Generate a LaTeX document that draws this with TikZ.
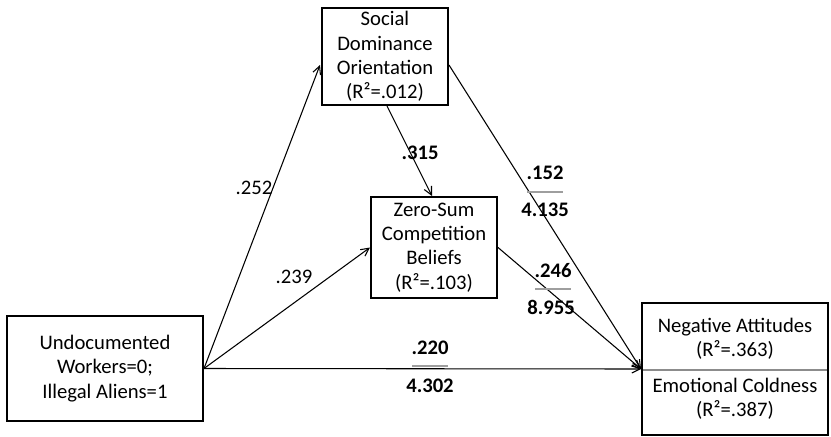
\documentclass[tikz,border=0pt]{standalone}
\usepackage{fontspec}
\setmainfont{Carlito}
\usetikzlibrary{arrows.meta,calc}
\tikzset{
  box/.style={draw,line width=1.5pt,inner sep=0pt,align=center,font=\fontsize{15.5}{18.2}\selectfont},
  txt/.style={inner sep=0pt,align=center,font=\fontsize{15.5}{18.2}\selectfont},
  coef/.style={inner sep=0pt,font=\fontsize{15.5}{18}\selectfont},
  bcoef/.style={inner sep=0pt,font=\bfseries\fontsize{15.5}{18}\selectfont},
  rule/.style={draw=black!38,line width=1.2pt},
  path/.style={line width=0.8pt,-{Straight Barb[length=6pt,width=6pt]}}
}
\begin{document}
\begin{tikzpicture}[x=0.75pt,y=-0.75pt]
\useasboundingbox (0,0) rectangle (831,436);
% boxes
\node[box,minimum width=94.5pt,minimum height=72.75pt] (sdo) at (385,56.5)
  {Social\\Dominance\\Orientation\\(R²=.012)};
\node[box,minimum width=94.5pt,minimum height=75.75pt] (zsc) at (434,247.5)
  {Zero-Sum\\Competition\\Beliefs\\(R²=.103)};
\node[box,minimum width=147pt,minimum height=78.75pt] (und) at (105,368.5)
  {Undocumented\\Workers=0;\\Illegal Aliens=1};
\node[box,minimum width=139.5pt,minimum height=99pt] (neg) at (735,369) {};
\node[txt] (neg1) at (735,339) {Negative Attitudes\\(R²=.363)};
\node[txt] (neg2) at (735,398.5) {Emotional Coldness\\(R²=.387)};
\coordinate (dl) at (643,370);
\coordinate (dr) at (827,370);
\draw[draw=black!45,line width=1pt] (dl) -- (dr);
% connectors
\draw[path] (und.east) -- ($(sdo.west)+(-1,8.5)$);
\draw[path] (und.east) -- (zsc.west);
\draw[path] (und.east) -- (neg.west);
\draw[path] ($(sdo.south)+(2,0)$) -- ($(zsc.north)+(-2,0)$);
\draw[path] ($(sdo.east)+(0,8.5)$) -- (neg.west);
\draw[path] (zsc.east) -- (neg.west);
% coefficients
\node[coef] (c1) at (254,188) {.252};
\node[coef] (c2) at (294,277) {.239};
\node[bcoef] (c3) at (420,153) {.315};
\node[bcoef] (c4) at (545,173) {.152};
\coordinate (r4a) at (527,192);
\coordinate (r4b) at (563,192);
\draw[rule] (r4a) -- (r4b);
\node[bcoef] (c4b) at (545,210) {4.135};
\node[bcoef] (c5) at (553,271) {.246};
\coordinate (r5a) at (535,289);
\coordinate (r5b) at (571,289);
\draw[rule] (r5a) -- (r5b);
\node[bcoef] (c5b) at (551,307) {8.955};
\node[bcoef] (c6) at (430,348) {.220};
\coordinate (r6a) at (412,366);
\coordinate (r6b) at (448,366);
\draw[rule] (r6a) -- (r6b);
\node[bcoef] (c6b) at (430,386) {4.302};
\end{tikzpicture}
\end{document}
